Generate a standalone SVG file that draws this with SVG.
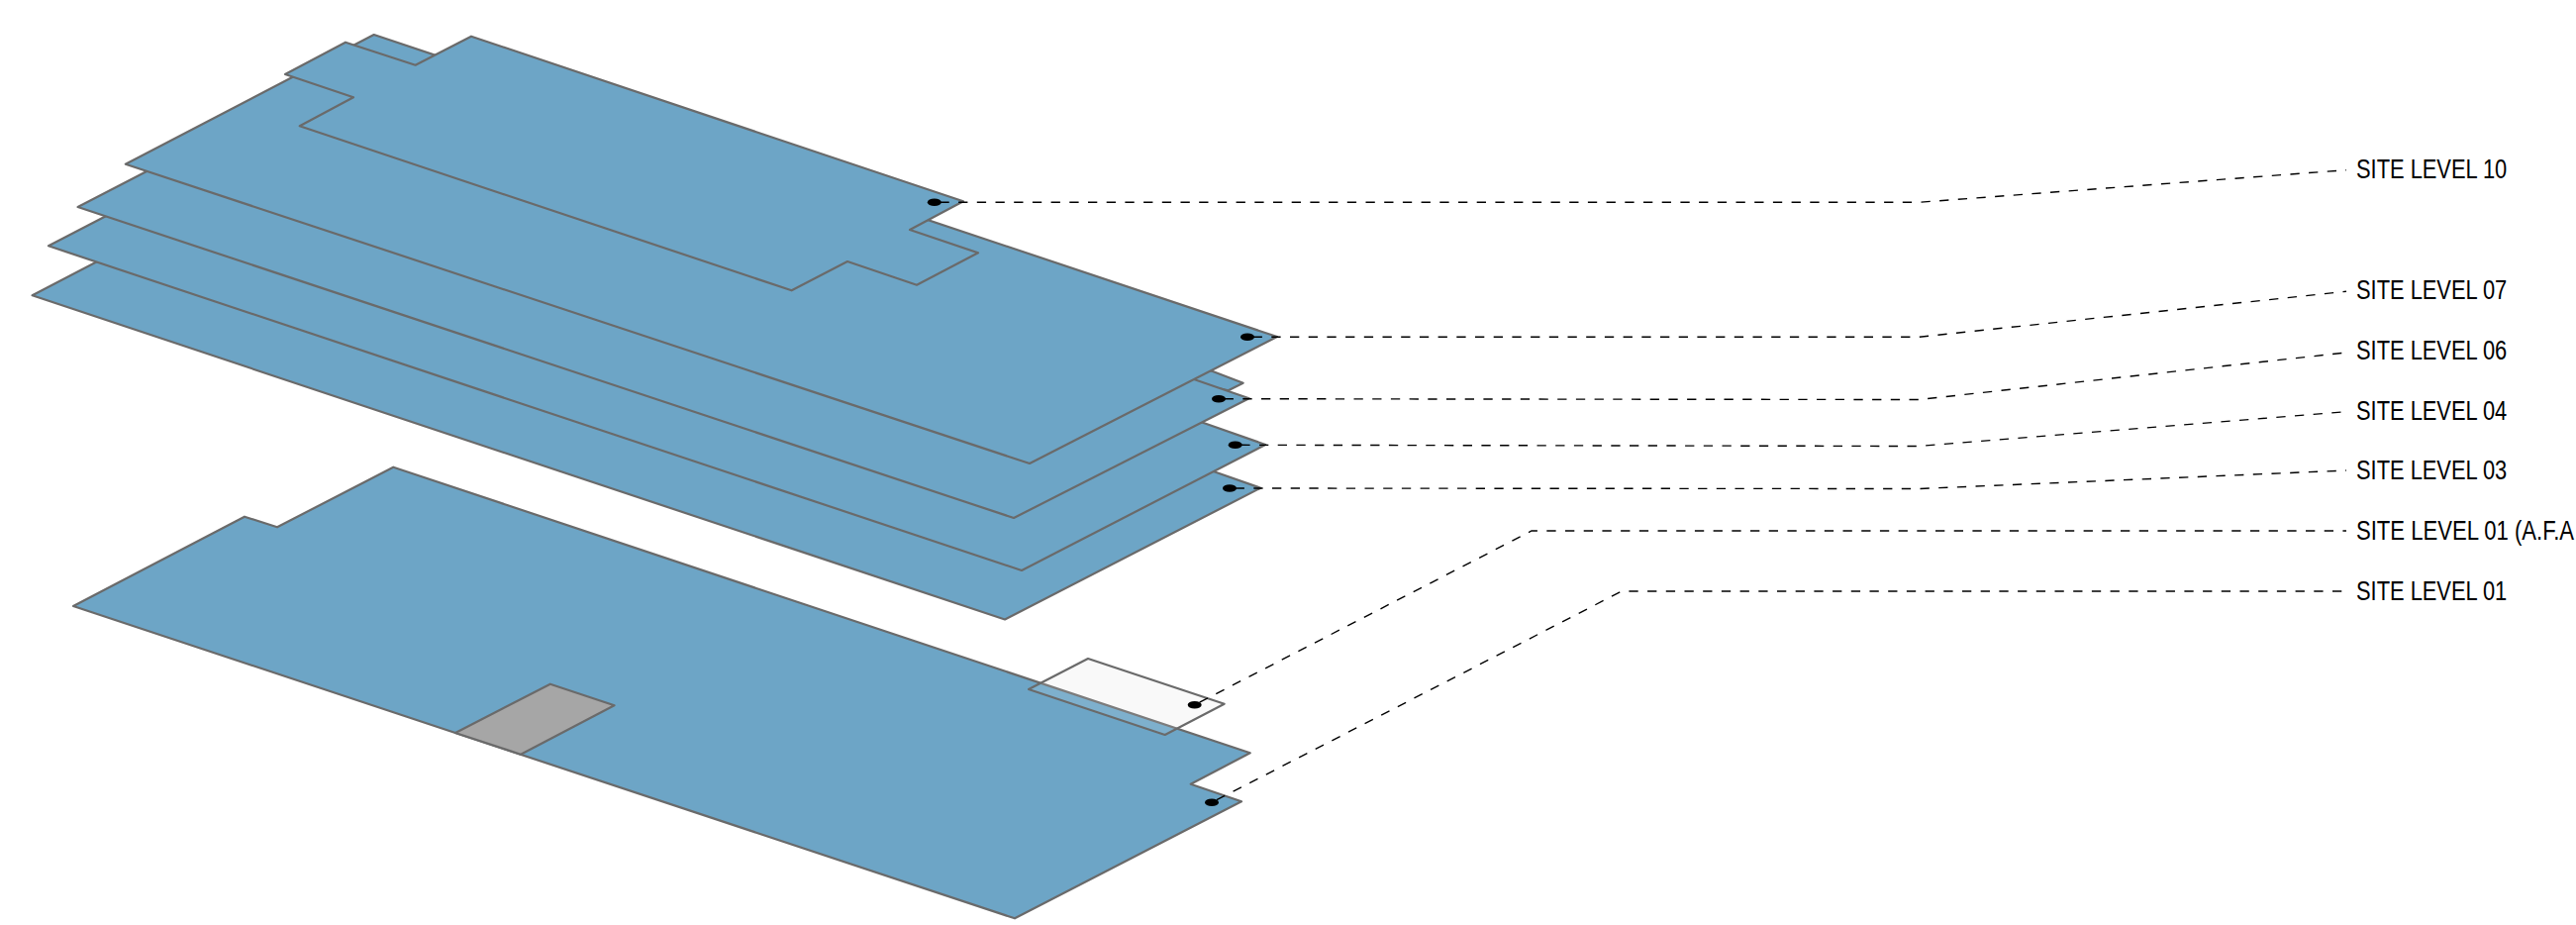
<svg xmlns="http://www.w3.org/2000/svg" width="2602" height="934" viewBox="0 0 2602 934">
<defs>
<style>
.plate{fill:#6da5c6;stroke:#6a6a6a;stroke-width:2.2;stroke-linejoin:round}
.grey{fill:#a6a6a6;stroke:#6a6a6a;stroke-width:2.2;stroke-linejoin:round}
.paper{fill:#f9f9f9;stroke:none}
.glass{fill:#fff;fill-opacity:.12;stroke:#6a6a6a;stroke-width:2.2;stroke-linejoin:round}
.lead{fill:none;stroke:#000;stroke-width:1.4;stroke-dasharray:9.3 9.4;stroke-dashoffset:13.1}
.dot{fill:#000}
.lab{font-family:"Liberation Sans",Arial,sans-serif;font-size:27px;fill:#000}
</style>
</defs>
<rect width="2602" height="934" fill="#fff"/>
<g id="level-03"><polygon class="plate" points="32.6,298.3 200,211 1225,475.7 1273.3,492.7 1015,625.5"/></g>
<g id="level-04"><polygon class="plate" points="49,248.3 250,144 1215,426.7 1278.3,449 1032,576"/></g>
<g id="level-05-tab"><polygon class="plate" points="1190,368 1225,375 1255.7,386.7 1240.7,394.3 1200,385"/></g>
<g id="level-06"><polygon class="plate" points="78.6,209 270,110 1206.7,383.3 1261.7,402.3 1024,523"/></g>
<g id="level-07"><polygon class="plate" points="126.8,165.7 377.7,35 1290,340 1040,468"/></g>
<g id="level-10"><polygon class="plate" points="476,36.7 419.6,65.7 349,42.7 288,75 357,98.3 302.7,127.3 799.6,293.3 856,264 926,287.7 988,255.3 919,232 973,203.3"/></g>
<g id="level-01-afa-under"><polygon class="paper" points="1099,665 1236.7,710.7 1176.7,742 1039,696"/></g>
<g id="level-01"><polygon class="plate" points="397.3,471.7 280,532.3 247,521.7 74,612 1025,927.3 1254,809.3 1202.7,791.7 1262.7,760.3"/></g>
<g id="core"><polygon class="grey" points="460,740 555.8,690.7 620.5,712.3 526,761.7"/></g>
<g id="level-01-afa"><polygon class="glass" points="1099,665 1236.7,710.7 1176.7,742 1039,696"/></g>
<g id="connectors">
<path class="lead" d="M943.8 204.3H1938L2370 171.7"/>
<path class="lead" d="M1260 340.3H1938L2370 294.3"/>
<path class="lead" d="M1231 402.7L1938 403.5L2370 356"/>
<path class="lead" d="M1247.7 449.3L1938 450.5L2370 415.7"/>
<path class="lead" d="M1242 493L1938 493.5L2370 475"/>
<path class="lead" d="M1206.7 711.7L1547 536H2370"/>
<path class="lead" d="M1224 810.3L1638 597H2370"/>
<ellipse class="dot" cx="943.8" cy="204.3" rx="7" ry="3.8"/>
<ellipse class="dot" cx="1260" cy="340.3" rx="7" ry="3.8"/>
<ellipse class="dot" cx="1231" cy="402.7" rx="7" ry="3.8"/>
<ellipse class="dot" cx="1247.7" cy="449.3" rx="7" ry="3.8"/>
<ellipse class="dot" cx="1242" cy="493" rx="7" ry="3.8"/>
<ellipse class="dot" cx="1206.7" cy="711.7" rx="7" ry="3.8"/>
<ellipse class="dot" cx="1224" cy="810.3" rx="7" ry="3.8"/>
</g>
<g id="labels">
<text class="lab" transform="translate(2380 179.5) scale(.81 1)">SITE LEVEL 10</text>
<text class="lab" transform="translate(2380 302) scale(.81 1)">SITE LEVEL 07</text>
<text class="lab" transform="translate(2380 362.5) scale(.81 1)">SITE LEVEL 06</text>
<text class="lab" transform="translate(2380 423.5) scale(.81 1)">SITE LEVEL 04</text>
<text class="lab" transform="translate(2380 484) scale(.81 1)">SITE LEVEL 03</text>
<text class="lab" transform="translate(2380 545) scale(.818 1)">SITE LEVEL 01 (A.F.A</text>
<text class="lab" transform="translate(2380 606) scale(.81 1)">SITE LEVEL 01</text>
</g>
</svg>
